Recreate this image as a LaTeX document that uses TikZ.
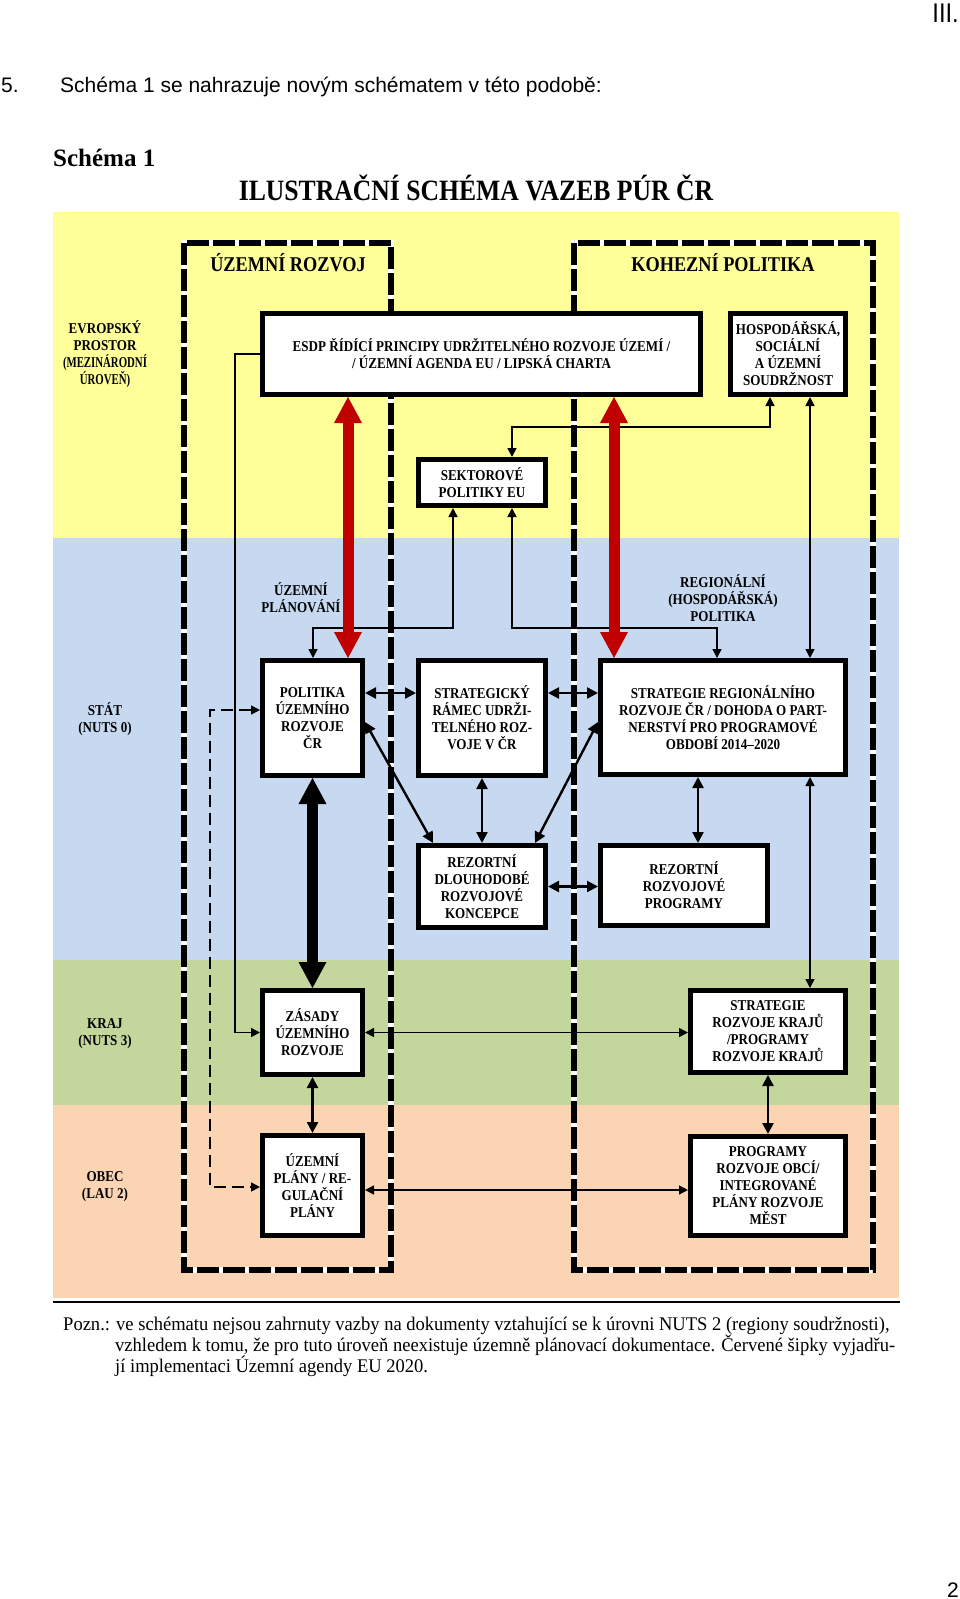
\documentclass[tikz,border=0pt]{standalone}
\usepackage{fontspec}
\setmainfont{Liberation Serif}
\newfontfamily\tnr[FakeStretch=0.87]{Liberation Serif}
\newfontfamily\tnrc[FakeStretch=0.72]{Liberation Serif}
\newfontfamily\tnrn[FakeStretch=0.96]{Liberation Serif}
\newfontfamily\arial{Liberation Sans}
\newfontfamily\arialn[FakeStretch=0.88]{Liberation Sans}
\usetikzlibrary{arrows.meta}
\newcommand\myfs[2]{\fontsize{#1}{#2}\selectfont}
\definecolor{bandY}{HTML}{FFFF99}
\definecolor{bandB}{HTML}{C6D9F1}
\definecolor{bandG}{HTML}{C3D69B}
\definecolor{bandO}{HTML}{FBD4B4}
\definecolor{redc}{HTML}{C00000}
\begin{document}
\begin{tikzpicture}[x=1pt,y=-1pt,
  bx/.style={draw, line width=5pt, fill=white, inner sep=0pt, align=center, font=\tnr\bfseries\myfs{15}{17}},
  lbl/.style={align=center, inner sep=0pt, font=\tnr\bfseries\myfs{15}{17}},
  lnA/.style={line width=1.6pt, >={Triangle[length=9pt,width=9pt]}},
  lnB/.style={line width=2.4pt, >={Triangle[length=11pt,width=11pt]}},
  dashc/.style={lnA, dash pattern=on 12pt off 6pt},
  redarr/.style={draw=redc, line width=11pt, {Triangle[length=26pt,width=28pt,line width=0pt]}-{Triangle[length=26pt,width=28pt,line width=0pt]}},
  bigarr/.style={draw=black, line width=11pt, {Triangle[length=26pt,width=28pt,line width=0pt]}-{Triangle[length=26pt,width=28pt,line width=0pt]}},
  contw/.style={draw=white, line width=6pt},
  contb/.style={draw=black, line width=6pt, dash pattern=on 22pt off 4pt}
]
\useasboundingbox (0,0) rectangle (960,1599);
\fill[white] (0,0) rectangle (960,1599);

% page header
\node[anchor=base east, inner sep=0pt, font=\arialn\myfs{27}{30}] (hdr) at (959,22) {III.};
\node[anchor=base west, inner sep=0pt, font=\arial\myfs{21}{25}] (n5) at (1,92) {5.};
\node[anchor=base west, inner sep=0pt, font=\arial\myfs{21}{25}] (intro) at (60,92) {Schéma 1 se nahrazuje novým schématem v této podobě:};
\node[anchor=base west, inner sep=0pt, font=\rmfamily\bfseries\myfs{25}{28}] (sch) at (53,166) {Schéma 1};
\node[anchor=base, inner sep=0pt, font=\tnr\bfseries\myfs{29.5}{32}] (title) at (476,200) {ILUSTRAČNÍ SCHÉMA VAZEB PÚR ČR};

% bands
\fill[bandY] (53,212) rectangle (899,538);
\fill[bandB] (53,538) rectangle (899,960);
\fill[bandG] (53,960) rectangle (899,1105);
\fill[bandO] (53,1105) rectangle (899,1298);
\draw[line width=2pt] (53,1302) -- (900,1302);

% containers
\draw[contw] (183.5,243) rectangle (391,1270);
\draw[contb] (183.5,243) rectangle (391,1270);
\draw[contw] (574,243) rectangle (873,1270);
\draw[contb] (574,243) rectangle (873,1270);
\node[lbl, font=\tnr\bfseries\myfs{21}{24}] (tur) at (288,263) {ÚZEMNÍ ROZVOJ};
\node[lbl, font=\tnr\bfseries\myfs{21}{24}] (tkp) at (723,263) {KOHEZNÍ POLITIKA};

% level labels
\node[lbl] (levE) at (105,354) {EVROPSKÝ\\PROSTOR\\{\tnrc(MEZINÁRODNÍ}\\{\tnrc ÚROVEŇ)}};
\node[lbl] (levS) at (105,719) {STÁT\\(NUTS 0)};
\node[lbl] (levK) at (105,1034) {KRAJ\\(NUTS 3)};
\node[lbl] (levO) at (105,1187) {OBEC\\(LAU 2)};
\node[lbl] (lup) at (301,598) {ÚZEMNÍ\\PLÁNOVÁNÍ};
\node[lbl] (lrp) at (723,598) {REGIONÁLNÍ\\(HOSPODÁŘSKÁ)\\POLITIKA};

% boxes
\node[bx, minimum width=438pt, minimum height=81pt] (esdp) at (481.5,354) {ESDP ŘÍDÍCÍ PRINCIPY UDRŽITELNÉHO ROZVOJE ÚZEMÍ /\\/ ÚZEMNÍ AGENDA EU / LIPSKÁ CHARTA};
\node[bx, minimum width=115pt, minimum height=81pt] (hosp) at (788,354) {HOSPODÁŘSKÁ,\\SOCIÁLNÍ\\A ÚZEMNÍ\\SOUDRŽNOST};
\node[bx, minimum width=127pt, minimum height=46pt] (sekt) at (482,482.5) {SEKTOROVÉ\\POLITIKY EU};
\node[bx, minimum width=100pt, minimum height=115pt] (pol) at (312.5,718) {POLITIKA\\ÚZEMNÍHO\\ROZVOJE\\ČR};
\node[bx, minimum width=127pt, minimum height=115pt] (strat) at (482,718) {STRATEGICKÝ\\RÁMEC UDRŽI-\\TELNÉHO ROZ-\\VOJE V ČR};
\node[bx, minimum width=245pt, minimum height=114pt] (sreg) at (723,717.5) {STRATEGIE REGIONÁLNÍHO\\ROZVOJE ČR / DOHODA O PART-\\NERSTVÍ PRO PROGRAMOVÉ\\OBDOBÍ 2014–2020};
\node[bx, minimum width=127pt, minimum height=82pt] (rezd) at (482,886.5) {REZORTNÍ\\DLOUHODOBÉ\\ROZVOJOVÉ\\KONCEPCE};
\node[bx, minimum width=167pt, minimum height=80pt] (rezr) at (684,885.5) {REZORTNÍ\\ROZVOJOVÉ\\PROGRAMY};
\node[bx, minimum width=100pt, minimum height=84pt] (zas) at (312.5,1032.5) {ZÁSADY\\ÚZEMNÍHO\\ROZVOJE};
\node[bx, minimum width=100pt, minimum height=100pt] (upl) at (312.5,1185.5) {ÚZEMNÍ\\PLÁNY / RE-\\GULAČNÍ\\PLÁNY};
\node[bx, minimum width=155pt, minimum height=82pt] (skr) at (768,1031.5) {STRATEGIE\\ROZVOJE KRAJŮ\\/PROGRAMY\\ROZVOJE KRAJŮ};
\node[bx, minimum width=155pt, minimum height=99pt] (pobc) at (768,1186) {PROGRAMY\\ROZVOJE OBCÍ/\\INTEGROVANÉ\\PLÁNY ROZVOJE\\MĚST};

% helper coordinates
\coordinate (cRL) at (348,0);
\coordinate (cRR) at (614,0);
\coordinate (cH1) at (770,427);
\coordinate (cH2) at (512,427);
\coordinate (cHx) at (810,0);
\coordinate (cS1) at (453,628);
\coordinate (cS2) at (313,628);
\coordinate (cS3) at (512,628);
\coordinate (cS4) at (717,628);
\coordinate (cY693) at (0,693);
\coordinate (cY722) at (0,722);
\coordinate (cX433) at (433,0);
\coordinate (cX535) at (535,0);
\coordinate (cX698) at (698,0);
\coordinate (cY1190) at (0,1190);
\coordinate (cD1) at (210,710);
\coordinate (cD2) at (210,1187);
\coordinate (cE1) at (235,354);

% connectors
\draw[lnA,->] (esdp.west) -- (cE1) |- (zas.west);
\draw[lnA,<->] (hosp.south -| cH1) -- (cH1) -- (cH2) -- (sekt.north -| cH2);
\draw[lnA,<->] (hosp.south -| cHx) -- (sreg.north -| cHx);
\draw[lnA,<->] (sekt.south -| cS1) -- (cS1) -- (cS2) -- (pol.north -| cS2);
\draw[lnA,<->] (sekt.south -| cS3) -- (cS3) -- (cS4) -- (sreg.north -| cS4);
\draw[lnB,<->] (pol.east |- cY693) -- (strat.west |- cY693);
\draw[lnB,<->] (strat.east |- cY693) -- (sreg.west |- cY693);
\draw[lnB,<->] (pol.east |- cY722) -- (rezd.north -| cX433);
\draw[lnB,<->] (sreg.west |- cY722) -- (rezd.north -| cX535);
\draw[lnB,<->] (strat.south) -- (rezd.north);
\draw[lnB,<->] (sreg.south -| cX698) -- (rezr.north -| cX698);
\draw[lnB,<->] (rezd.east) -- (rezr.west |- rezd.east);
\draw[lnA,<->] (sreg.south -| cHx) -- (skr.north -| cHx);
\draw[lnA,<->] (zas.east) -- (skr.west |- zas.east);
\draw[lnB,<->] (zas.south) -- (upl.north);
\draw[lnA,<->] (upl.east |- cY1190) -- (pobc.west |- cY1190);
\draw[lnB,<->] (skr.south) -- (pobc.north);
\draw[dashc,<->] (pol.west |- cD1) -- (cD1) -- (cD2) -- (upl.west |- cD2);
\draw[redarr] (esdp.south -| cRL) -- (pol.north -| cRL);
\draw[redarr] (esdp.south -| cRR) -- (sreg.north -| cRR);
\draw[bigarr] (pol.south) -- (zas.north);

% note
\node[anchor=base west, inner sep=0pt, font=\tnrn\myfs{19.3}{21}] (p1) at (63,1330) {Pozn.: ve schématu nejsou zahrnuty vazby na dokumenty vztahující se k úrovni NUTS 2 (regiony soudržnosti),};
\node[anchor=base west, inner sep=0pt, font=\tnrn\myfs{19.3}{21}] (p2) at (115,1351) {vzhledem k tomu, že pro tuto úroveň neexistuje územně plánovací dokumentace. Červené šipky vyjadřu-};
\node[anchor=base west, inner sep=0pt, font=\tnrn\myfs{19.3}{21}] (p3) at (115,1372) {jí implementaci Územní agendy EU 2020.};

\node[anchor=base east, inner sep=0pt, font=\arial\myfs{21}{25}] (pgn) at (959,1597) {2};
\end{tikzpicture}
\end{document}
